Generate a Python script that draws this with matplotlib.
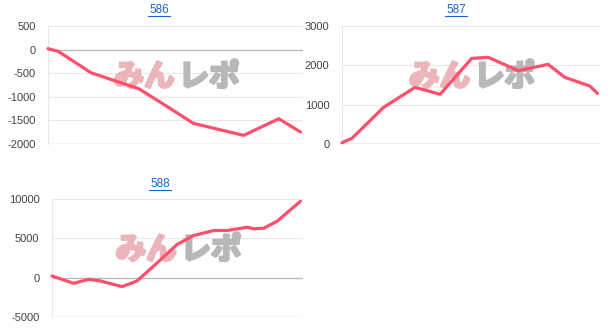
import matplotlib
matplotlib.use("Agg")
import matplotlib.pyplot as plt
import matplotlib.patheffects as pe

plt.rcParams['font.family'] = ['Liberation Sans', 'Noto Sans CJK JP', 'DejaVu Sans']

# data (x = relative position along the session, 0..100)
x586 = [0, 4, 17, 36, 47, 57.6, 77.5, 91.4, 100]
y586 = [20, -35, -490, -830, -1200, -1563, -1817, -1465, -1746]

x587 = [0, 3.9, 16.3, 28.6, 38.4, 50.8, 57.3, 69.0, 80.7, 87.2, 97.0, 100]
y587 = [34, 144, 932, 1441, 1263, 2178, 2203, 1864, 2025, 1695, 1475, 1288]

x588 = [0, 8.7, 14.8, 19.5, 28.2, 34.2, 40.9, 50.3, 57.0, 65.1, 70.5, 78.5, 81.2,
        85.2, 90.6, 96.0, 100]
y588 = [211, -717, -211, -422, -1139, -422, 1477, 4219, 5358, 5992, 5992, 6414,
        6203, 6287, 7173, 8650, 9705]

titles = ['586', '587', '588']
yticks = [[500, 0, -500, -1000, -1500, -2000],
          [3000, 2000, 1000, 0],
          [10000, 5000, 0, -5000]]
baselines = [0, 0, 0]

W, H = 613, 336
fig = plt.figure(figsize=(W / 100, H / 100), dpi=100)

# axes boxes in pixels: left, top, right, bottom
boxes = [(48, 26, 303, 144), (342, 26, 600, 144), (52, 199, 303, 317)]
title_pos = [(159, 10), (456, 10), (160, 184)]
series = [(x586, y586), (x587, y587), (x588, y588)]

line_color = '#ff4f6d'
grid_color = '#e8e8e8'

for i in range(3):
    l, t, r, b = boxes[i]
    ax = fig.add_axes([l / W, 1 - b / H, (r - l) / W, (b - t) / H])
    xs, ys = series[i]
    ax.plot(xs, ys, color=line_color, lw=2.3, solid_capstyle='round',
            zorder=3, clip_on=False)
    ax.set_xlim(0, 101)
    yt = yticks[i]
    ax.set_ylim(min(yt), max(yt))
    ax.set_yticks(yt)
    ax.set_yticklabels([str(v) for v in yt])
    ax.set_xticks([])
    for v in yt:
        ax.axhline(v, color=grid_color, lw=0.8, zorder=1)
    ax.axhline(baselines[i], color='#b8b8b8', lw=0.9, zorder=2)
    ax.axhline(min(yt), color='#c8c8c8', lw=0.9, zorder=2)
    for s in ['top', 'right', 'bottom']:
        ax.spines[s].set_visible(False)
    ax.spines['left'].set_color(grid_color)
    ax.tick_params(axis='y', length=0, pad=9, labelsize=8, labelcolor='#444444')
    ax.set_facecolor('none')

    # watermark (behind the line)
    cx = (l + r) / 2
    cy = (t + b) / 2 - 8
    ax.text((cx - 1) / W, 1 - cy / H, 'みん', ha='right', va='center',
            transform=fig.transFigure, fontsize=22, fontweight='bold',
            color='#ebb5b9', family=['Noto Sans CJK JP'], zorder=1.5,
            path_effects=[pe.withStroke(linewidth=2, foreground='#ebb5b9')])
    ax.text((cx + 3) / W, 1 - cy / H, 'レポ', ha='left', va='center',
            transform=fig.transFigure, fontsize=22, fontweight='bold',
            color='#b8b8b8', family=['Noto Sans CJK JP'], zorder=1.5,
            path_effects=[pe.withStroke(linewidth=2, foreground='#b8b8b8')])

    tx, ty = title_pos[i]
    fig.text(tx / W, 1 - ty / H, titles[i], ha='center', va='center',
             fontsize=8.5, color='#1a66cc')
    # underline
    fig.add_artist(plt.Line2D([(tx - 11) / W, (tx + 11) / W],
                              [1 - (ty + 6) / H, 1 - (ty + 6) / H],
                              color='#1a66cc', lw=0.8))

fig.savefig('out.png', dpi=100)
